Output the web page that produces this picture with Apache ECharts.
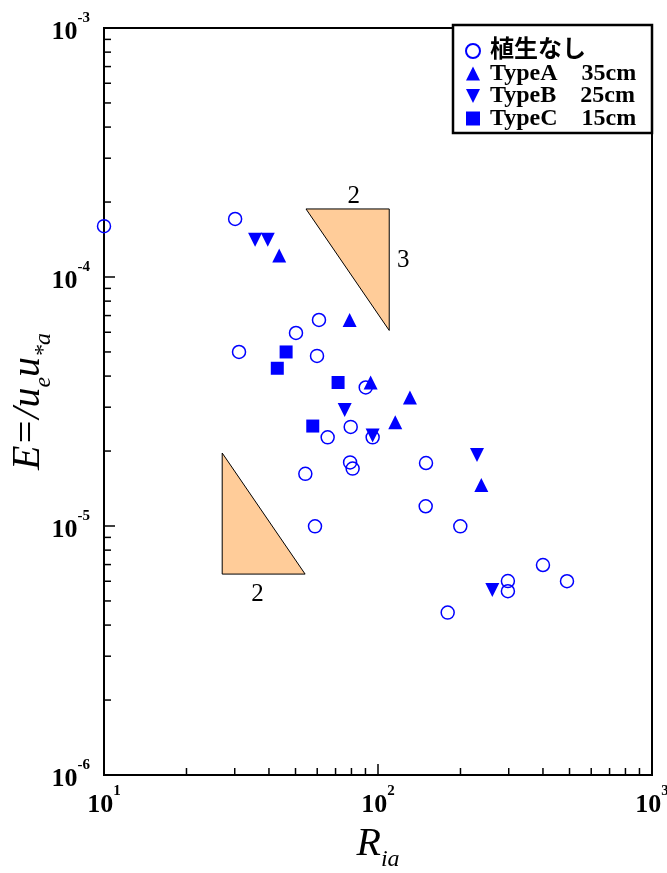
<!DOCTYPE html>
<html>
<head>
<meta charset="utf-8">
<script src="https://cdn.jsdelivr.net/npm/echarts@6/dist/echarts.min.js"></script>
<style>
html, body { margin: 0; padding: 0; background: #fff; }
#chart { width: 667px; height: 873px; }
</style>
</head>
<body>
<div id="chart"></div>
<script>
// [R_ia, E] pairs
const noVegetation = [
    [10, 1.60e-4], [30.1, 1.71e-4], [31.1, 5.0e-5], [50.2, 5.96e-5], [60.9, 6.72e-5],
    [59.9, 4.82e-5], [90.2, 3.6e-5], [79.5, 2.5e-5], [65.5, 2.27e-5], [95.6, 2.27e-5],
    [79.1, 1.80e-5], [80.8, 1.70e-5], [54.3, 1.62e-5], [149.7, 1.79e-5], [149.3, 1.20e-5],
    [199.7, 9.97e-6], [58.9, 9.97e-6], [400, 6.97e-6], [297.9, 6.01e-6], [297.9, 5.47e-6],
    [489.5, 6.0e-6], [179.6, 4.49e-6]
];
const typeA = [
    [43.6, 1.22e-4], [78.8, 6.72e-5], [94.0, 3.77e-5], [130.8, 3.28e-5], [115.6, 2.61e-5],
    [238.3, 1.46e-5]
];
const typeB = [
    [35.6, 1.41e-4], [39.6, 1.41e-4], [75.6, 2.92e-5], [95.6, 2.31e-5], [229.8, 1.93e-5],
    [261.3, 5.53e-6]
];
const typeC = [
    [46.2, 5.0e-5], [42.9, 4.30e-5], [71.5, 3.77e-5], [57.8, 2.52e-5]
];
const seriesNames = ['植生なし', 'TypeA    35cm', 'TypeB    25cm', 'TypeC    15cm'];

// slope triangles: three vertices [x1, y1, x2, y2, x3, y3]
const slopeTriangles = [
    [54.6, 1.876e-4, 109.9, 1.876e-4, 109.9, 6.10e-5],
    [27.0, 1.964e-5, 27.0, 6.41e-6, 54.2, 6.41e-6]
];
const slopeRunLabels = ['2', '2'];
const slopeRiseLabels = ['3', ''];

// minor tick values
const xMinorTicks = [20, 30, 40, 50, 60, 70, 80, 90, 200, 300, 400, 500, 600, 700, 800, 900];
const yMinorTicks = [2e-6, 3e-6, 4e-6, 5e-6, 6e-6, 7e-6, 8e-6, 9e-6,
    2e-5, 3e-5, 4e-5, 5e-5, 6e-5, 7e-5, 8e-5, 9e-5,
    2e-4, 3e-4, 4e-4, 5e-4, 6e-4, 7e-4, 8e-4, 9e-4];

const serif = '"Liberation Serif", "Times New Roman", serif';
const blue = '#0000ff';
const downTriangle = 'path://M0,0 L10,0 L5,10 Z';

const chart = echarts.init(document.getElementById('chart'));

function powLabel(value) {
    const e = Math.round(Math.log10(value));
    return '{b|10}{s|' + e + '}';
}
const powRich = {
    b: { fontFamily: serif, fontWeight: 'bold', fontSize: 26, color: '#000', padding: [8, 0, 0, 0] },
    s: { fontFamily: serif, fontWeight: 'bold', fontSize: 15, color: '#000', verticalAlign: 'top', lineHeight: 15 }
};

function renderTriangle(params, api) {
    const i = params.dataIndex;
    const p = [
        api.coord([api.value(0), api.value(1)]),
        api.coord([api.value(2), api.value(3)]),
        api.coord([api.value(4), api.value(5)])
    ];
    const children = [{
        type: 'polygon',
        shape: { points: p },
        style: { fill: '#ffcc99', stroke: '#000', lineWidth: 1 }
    }];
    // legs: pairs of vertices sharing a y (run) or an x (rise)
    for (let a = 0; a < 3; a++) {
        for (let b = a + 1; b < 3; b++) {
            const c = 3 - a - b;
            const horiz = Math.abs(p[a][1] - p[b][1]) < 0.5;
            const vert = Math.abs(p[a][0] - p[b][0]) < 0.5;
            if (!horiz && !vert) continue;
            const ra = horiz ? (Math.abs(p[a][0] - p[c][0]) < 0.5 ? a : b) : (Math.abs(p[a][1] - p[c][1]) < 0.5 ? a : b);
            const mx = (p[a][0] + p[b][0]) / 2, my = (p[a][1] + p[b][1]) / 2;
            const tx = mx + 0.15 * (p[ra][0] - mx), ty = my + 0.15 * (p[ra][1] - my);
            if (horiz && slopeRunLabels[i]) {
                const above = p[c][1] > p[a][1];
                children.push({
                    type: 'text',
                    x: tx, y: above ? p[a][1] - 13 : p[a][1] + 20,
                    style: { text: slopeRunLabels[i], font: '25px ' + serif, fill: '#000', align: 'center', verticalAlign: 'middle' }
                });
            }
            if (vert && slopeRiseLabels[i]) {
                const right = p[c][0] < p[a][0];
                children.push({
                    type: 'text',
                    x: right ? p[a][0] + 14 : p[a][0] - 14, y: ty,
                    style: { text: slopeRiseLabels[i], font: '25px ' + serif, fill: '#000', align: 'center', verticalAlign: 'middle' }
                });
            }
        }
    }
    return { type: 'group', children: children };
}

function renderMinorX(params, api) {
    const p = api.coord([api.value(0), api.value(1)]);
    return { type: 'line', shape: { x1: p[0], y1: p[1], x2: p[0], y2: p[1] - 7 }, style: { stroke: '#000', lineWidth: 1.5 } };
}
function renderMinorY(params, api) {
    const p = api.coord([api.value(0), api.value(1)]);
    return { type: 'line', shape: { x1: p[0], y1: p[1], x2: p[0] + 7, y2: p[1] }, style: { stroke: '#000', lineWidth: 1.5 } };
}

const titleRich = {
    r: { fontFamily: serif, fontStyle: 'italic', fontSize: 40, color: '#000', verticalAlign: 'top', lineHeight: 44 },
    s: { fontFamily: serif, fontStyle: 'italic', fontSize: 24, color: '#000', verticalAlign: 'top', lineHeight: 24, padding: [24, 0, 0, 0] }
};

const option = {
    animation: false,
    backgroundColor: '#fff',
    grid: {
        left: 104, right: 15, top: 28, bottom: 98,
        outerBoundsMode: 'none',
        containLabel: false,
        show: true, borderColor: '#000', borderWidth: 2
    },
    xAxis: {
        type: 'log', logBase: 10, min: 10, max: 1000,
        axisLine: { lineStyle: { color: '#000', width: 2 } },
        axisTick: { inside: true, length: 11, lineStyle: { color: '#000', width: 1.5 } },
        splitLine: { show: false },
        axisLabel: { formatter: powLabel, rich: powRich, margin: 9 },
        name: '{r|R}{s|ia}',
        nameLocation: 'middle',
        nameGap: 49,
        nameMoveOverlap: false,
        nameTextStyle: { rich: titleRich }
    },
    yAxis: {
        type: 'log', logBase: 10, min: 1e-6, max: 1e-3,
        axisLine: { lineStyle: { color: '#000', width: 2 } },
        axisTick: { inside: true, length: 11, lineStyle: { color: '#000', width: 1.5 } },
        splitLine: { show: false },
        axisLabel: { formatter: powLabel, rich: powRich, margin: 14 },
        name: '{r|E=/u}{s|e}{r|u}{s|*a}',
        nameLocation: 'middle',
        nameRotate: 90,
        nameGap: 52,
        nameMoveOverlap: false,
        nameTextStyle: { rich: titleRich }
    },
    legend: {
        data: [
            { name: seriesNames[0] },
            { name: seriesNames[1] },
            { name: seriesNames[2], icon: downTriangle },
            { name: seriesNames[3] }
        ],
        orient: 'vertical',
        left: 460, top: 34,
        itemWidth: 14, itemHeight: 14, itemGap: -1.5,
        z: 10,
        textStyle: { fontFamily: serif + ', "Noto Sans CJK JP"', fontWeight: 'bold', fontSize: 24, lineHeight: 21, color: '#000', padding: [0, 0, 0, 5] }
    },
    graphic: [{
        type: 'rect', z: 5,
        shape: { x: 453, y: 25, width: 199, height: 108 },
        style: { fill: '#fff', stroke: '#000', lineWidth: 2.5 }
    }],
    series: [
        {
            type: 'custom', name: 'slope', renderItem: renderTriangle,
            encode: { x: [0, 2, 4], y: [1, 3, 5] }, data: slopeTriangles, z: 1, silent: true
        },
        {
            type: 'custom', name: 'xminor', renderItem: renderMinorX,
            data: xMinorTicks.map(v => [v, 1e-6]), z: 3, silent: true
        },
        {
            type: 'custom', name: 'yminor', renderItem: renderMinorY,
            data: yMinorTicks.map(v => [10, v]), z: 3, silent: true
        },
        {
            type: 'scatter', name: seriesNames[0], data: noVegetation,
            symbol: 'circle', symbolSize: 13,
            itemStyle: { color: 'rgba(255,255,255,0)', borderColor: blue, borderWidth: 1.5, opacity: 1 }
        },
        {
            type: 'scatter', name: seriesNames[1], data: typeA,
            symbol: 'triangle', symbolSize: 14,
            itemStyle: { color: blue, opacity: 1 }
        },
        {
            type: 'scatter', name: seriesNames[2], data: typeB,
            symbol: 'triangle', symbolSize: 14, symbolRotate: 180,
            itemStyle: { color: blue, opacity: 1 }
        },
        {
            type: 'scatter', name: seriesNames[3], data: typeC,
            symbol: 'rect', symbolSize: 13,
            itemStyle: { color: blue, opacity: 1 }
        }
    ]
};
chart.setOption(option);
</script>
</body>
</html>
